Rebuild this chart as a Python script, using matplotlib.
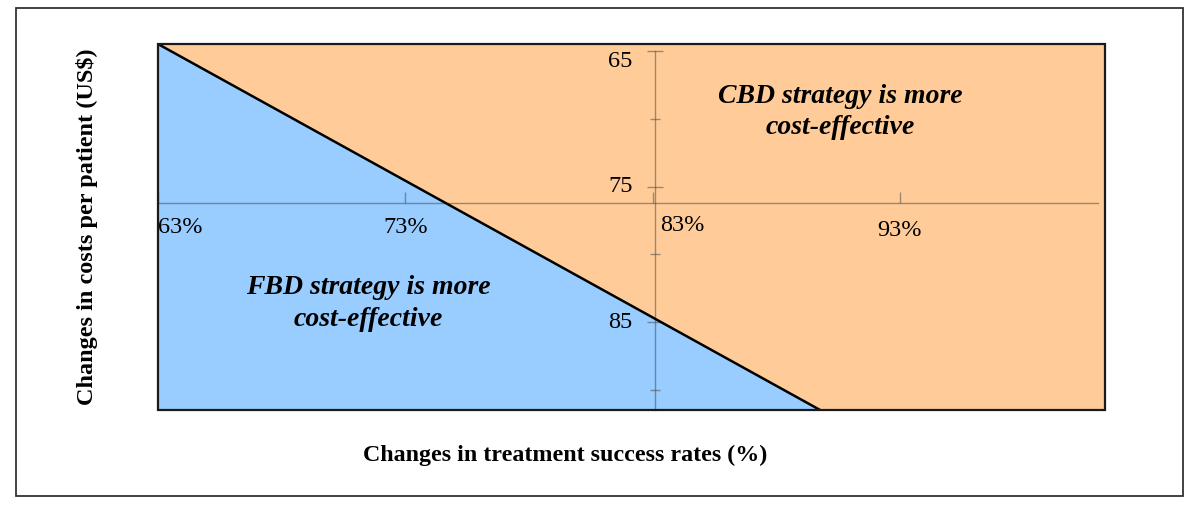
import matplotlib
matplotlib.use("Agg")
import matplotlib.pyplot as plt
from matplotlib.patches import Rectangle

# ---- data ----
x_ticks = [63, 73, 83, 93]
x_tick_labels = ["63%", "73%", "83%", "93%"]
y_ticks = [65, 75, 85]
y_tick_labels = ["65", "75", "85"]
y_minor_ticks = [70, 80, 90]
threshold_x = [63.0, 89.77]       # break-even line, success rate (%)
threshold_y = [64.48, 91.49]      # break-even line, cost (US$)
x_range = [63.0, 101.29]
y_range = [91.49, 64.48]          # inverted
x_cross = 83.1                    # where vertical axis crosses
y_cross = 76.22                   # where horizontal axis crosses
x_axis_end = 101.0
region_labels = ["CBD strategy is more\ncost-effective",
                 "FBD strategy is more\ncost-effective"]
x_title = "Changes in treatment success rates (%)"
y_title = "Changes in costs per patient (US$)"

blue = "#99ccff"
orange = "#ffcc99"
axis_col = (0.3, 0.3, 0.3, 0.55)
serif = ["Liberation Serif", "DejaVu Serif"]

fig = plt.figure(figsize=(12, 5.26), dpi=100)
ax = fig.add_axes([158 / 1200, 116 / 526, 947 / 1200, 366 / 526])
ax.set_xlim(*x_range)
ax.set_ylim(*y_range)
ax.set_facecolor(orange)

ax.fill_between(threshold_x, threshold_y, [y_range[0]] * 2, color=blue, zorder=1, lw=0)
ax.plot(threshold_x, threshold_y, color="black", lw=1.8, zorder=3, solid_capstyle="butt")

# crossing axes via spines
for s in ["top", "right"]:
    ax.spines[s].set_visible(False)
ax.spines["left"].set_position(("data", x_cross))
ax.spines["bottom"].set_position(("data", y_cross))
ax.spines["left"].set_color(axis_col)
ax.spines["bottom"].set_color(axis_col)
ax.spines["left"].set_linewidth(1.0)
ax.spines["bottom"].set_linewidth(1.0)
ax.spines["left"].set_bounds(65, y_range[0])
ax.spines["bottom"].set_bounds(x_range[0], x_axis_end)
ax.spines["left"].set_zorder(2)
ax.spines["bottom"].set_zorder(2)

ax.set_xticks(x_ticks)
ax.set_yticks(y_ticks)
ax.set_yticks(y_minor_ticks, minor=True)
ax.tick_params(axis="x", direction="in", length=8, width=1, color=axis_col, labelbottom=False)
ax.tick_params(axis="y", which="major", direction="inout", length=11, width=1, color=axis_col, labelleft=False)
ax.tick_params(axis="y", which="minor", direction="inout", length=7, width=1, color=axis_col, labelleft=False)

# border of plot area
ax.add_patch(Rectangle((0, 0), 1, 1, transform=ax.transAxes, fill=False,
                       ec="#1a1a1a", lw=1.6, zorder=5, clip_on=False))

# tick labels
lab_y = 78.05
fs_tick = 17.5
ax.text(x_ticks[0], lab_y, x_tick_labels[0], ha="left", va="center", fontsize=fs_tick, family=serif)
ax.text(x_ticks[1], lab_y, x_tick_labels[1], ha="center", va="center", fontsize=fs_tick, family=serif)
ax.text(x_ticks[2] + 0.3, lab_y - 0.15, x_tick_labels[2], ha="left", va="center", fontsize=fs_tick, family=serif)
ax.text(x_ticks[3], lab_y + 0.2, x_tick_labels[3], ha="center", va="center", fontsize=fs_tick, family=serif)

ax.text(x_cross - 0.9, y_ticks[0] + 0.8, y_tick_labels[0], ha="right", va="center", fontsize=fs_tick, family=serif)
ax.text(x_cross - 0.9, y_ticks[1], y_tick_labels[1], ha="right", va="center", fontsize=fs_tick, family=serif)
ax.text(x_cross - 0.9, y_ticks[2], y_tick_labels[2], ha="right", va="center", fontsize=fs_tick, family=serif)

# region labels
ax.text(90.6, 69.5, region_labels[0], ha="center", va="center", fontsize=20,
        fontweight="bold", fontstyle="italic", family=serif, linespacing=1.36)
ax.text(71.5, 83.65, region_labels[1], ha="center", va="center", fontsize=20,
        fontweight="bold", fontstyle="italic", family=serif, linespacing=1.36)

# axis titles
fig.text(565 / 1200, 1 - 455 / 526, x_title, ha="center", va="center", fontsize=17.3,
         fontweight="bold", family=serif)
fig.text(87 / 1200, 1 - 227 / 526, y_title, ha="center", va="center", rotation=90,
         fontsize=17.5, fontweight="bold", family=serif)

# outer frame
fig.patches.append(Rectangle((16 / 1200, 1 - 496 / 526), 1167 / 1200, 488 / 526,
                             transform=fig.transFigure, fill=False, ec="#333333", lw=1.3))

fig.savefig("out.png", dpi=100, facecolor="white")
